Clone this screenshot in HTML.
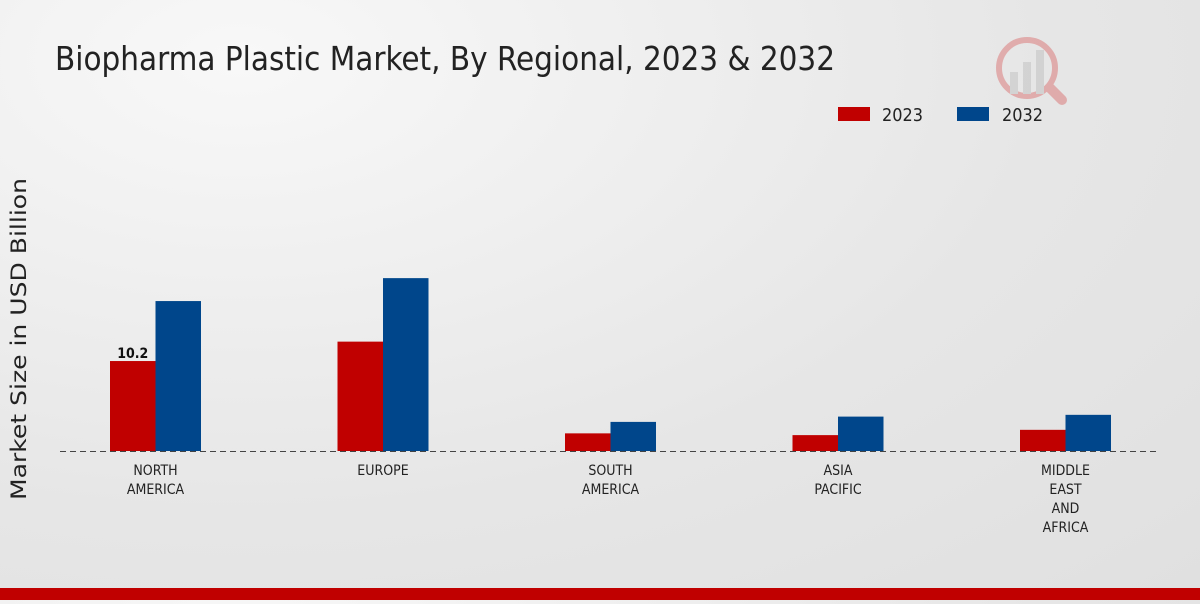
<!DOCTYPE html>
<html><head><meta charset="utf-8"><style>
body{margin:0;width:1200px;height:600px;overflow:hidden;background:radial-gradient(ellipse at 20% 10%,#f8f8f8,#e6e6e6 60%,#e0e0e0);font-family:"DejaVu Sans",sans-serif}
</style></head><body>
<svg width="1200" height="600">
<text x="55" y="70" font-family="DejaVu Sans Condensed, DejaVu Sans, sans-serif" font-size="33" fill="#222" textLength="780" lengthAdjust="spacingAndGlyphs">Biopharma Plastic Market, By Regional, 2023 &amp; 2032</text>
<g opacity="0.25">
<circle cx="1027" cy="68" r="28" fill="none" stroke="#c00" stroke-width="6"/>
<rect x="1010" y="72" width="8" height="22" fill="#999"/><rect x="1023" y="62" width="8" height="32" fill="#999"/><rect x="1036" y="50" width="8" height="44" fill="#999"/>
<line x1="1050" y1="88" x2="1062" y2="100" stroke="#c00" stroke-width="10" stroke-linecap="round"/>
</g>
<g>
<rect x="838" y="107" width="32" height="14" fill="#c00000"/>
<text x="882" y="121" font-family="DejaVu Sans Condensed, DejaVu Sans, sans-serif" font-size="18" fill="#222" textLength="41" lengthAdjust="spacingAndGlyphs">2023</text>
<rect x="957" y="107" width="32" height="14" fill="#00468b"/>
<text x="1002" y="121" font-family="DejaVu Sans Condensed, DejaVu Sans, sans-serif" font-size="18" fill="#222" textLength="41" lengthAdjust="spacingAndGlyphs">2032</text>
</g>
<text transform="translate(26,339) rotate(-90)" text-anchor="middle" font-family="DejaVu Sans, sans-serif" font-size="21" fill="#222" textLength="322" lengthAdjust="spacingAndGlyphs">Market Size in USD Billion</text>
<g id="bars"></g>
<line x1="60" y1="451.5" x2="1160" y2="451.5" stroke="#444" stroke-dasharray="6,4"/>
<g id="labels"></g>
<rect x="0" y="588" width="1200" height="12" fill="#c00000"/>
</svg>
<script>
const categories=[["NORTH","AMERICA"],["EUROPE"],["SOUTH","AMERICA"],["ASIA","PACIFIC"],["MIDDLE","EAST","AND","AFRICA"]];
const values2023=[10.2,12.4,2.0,1.8,2.4];
const values2032=[17.0,19.6,3.3,3.9,4.1];
const ns="http://www.w3.org/2000/svg";
const base=451,scale=8.82,x0=155.5,step=227.5,bw=45.5;
const y=v=>base-v*scale;
const bars=document.getElementById('bars'),labels=document.getElementById('labels');
categories.forEach((c,i)=>{
  const cx=x0+i*step;
  [[values2023[i],"#c00000",cx-bw,"2023"],[values2032[i],"#00468b",cx,"2032"]].forEach(([v,col,x,s])=>{
    const r=document.createElementNS(ns,'rect');
    r.setAttribute('x',x);r.setAttribute('y',y(v));r.setAttribute('width',bw);r.setAttribute('height',base-y(v));r.setAttribute('fill',col);
    
    
    bars.appendChild(r);
  });
  const t=document.createElementNS(ns,'text');
  t.setAttribute('text-anchor','middle');t.setAttribute('font-family','DejaVu Sans Condensed, DejaVu Sans, sans-serif');t.setAttribute('font-size','14');t.setAttribute('fill','#222');
  
  
  c.forEach((l,j)=>{const ts=document.createElementNS(ns,'tspan');ts.setAttribute('x',cx);ts.setAttribute('y',475+j*19);ts.textContent=l;t.appendChild(ts);});
  labels.appendChild(t);
});
const vl=document.createElementNS(ns,'text');
vl.setAttribute('x',x0-bw/2);vl.setAttribute('y',y(values2023[0])-3);vl.setAttribute('text-anchor','middle');vl.setAttribute('font-family','DejaVu Sans Condensed, DejaVu Sans, sans-serif');vl.setAttribute('font-size','14');vl.setAttribute('font-weight','bold');vl.setAttribute('fill','#111');
vl.textContent=values2023[0];


labels.appendChild(vl);
</script>
</body></html>
